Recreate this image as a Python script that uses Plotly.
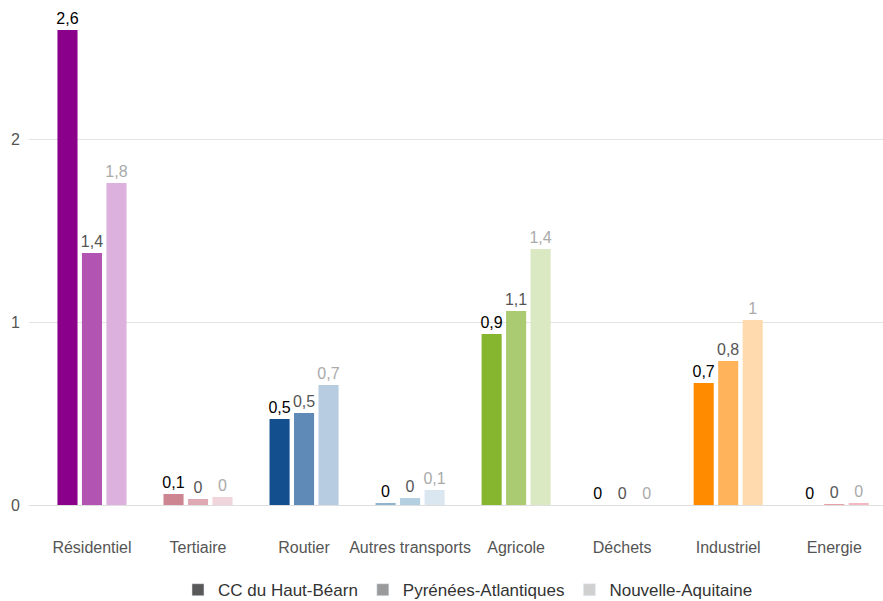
import plotly.graph_objects as go

categories = ["Résidentiel", "Tertiaire", "Routier", "Autres transports",
              "Agricole", "Déchets", "Industriel", "Energie"]
series_names = ["CC du Haut-Béarn", "Pyrénées-Atlantiques", "Nouvelle-Aquitaine"]

cc_values = [2.596, 0.060, 0.470, 0.011, 0.934, 0.0, 0.667, 0.0]
pa_values = [1.377, 0.033, 0.503, 0.038, 1.060, 0.0, 0.787, 0.005]
na_values = [1.760, 0.044, 0.656, 0.082, 1.399, 0.0, 1.011, 0.011]

cc_colors = ["#8B008B", "#CD8592", "#134F8E", "#8EB5CE", "#86B52F", "#8B5A2B", "#FF8C00", "#DC5A6E"]
pa_colors = ["#B254B2", "#DFA9B3", "#5F8AB8", "#B3CFE0", "#AACB72", "#B08A68", "#FFB45C", "#E8A0A8"]
na_colors = ["#DDB1DD", "#F0D5DA", "#B7CBE1", "#DAE7F1", "#DBE9C3", "#D8C4B0", "#FFDAAE", "#F4B8C0"]

legend_colors = ["#595959", "#9a9a9a", "#d0d0d0"]
label_colors = ["#000000", "#555555", "#aaaaaa"]

FONT = '"Liberation Sans", Arial, sans-serif'


def fmt(v):
    s = f"{round(v, 1):.1f}".replace(".", ",")
    if s.endswith(",0"):
        s = s[:-2]
    return s


fig = go.Figure()
for name, vals, cols, lc in zip(series_names, [cc_values, pa_values, na_values],
                                [cc_colors, pa_colors, na_colors], label_colors):
    fig.add_trace(go.Bar(
        x=categories, y=vals, name=name, showlegend=False,
        marker=dict(color=cols, line=dict(width=0)),
        text=[fmt(v) for v in vals], textposition="outside",
        textfont=dict(color=lc, size=16, family=FONT),
        constraintext="none",
        cliponaxis=False, hoverinfo="x+y",
    ))

# legend entries (gray swatches) on a hidden axis
for name, col in zip(series_names, legend_colors):
    fig.add_trace(go.Bar(x=[None], y=[None], name=name, marker=dict(color=col),
                         xaxis="x2", yaxis="y2", showlegend=True))

fig.update_layout(
    width=883, height=601,
    margin=dict(l=29, r=0, t=11, b=96),
    plot_bgcolor="white", paper_bgcolor="white",
    barmode="group", bargap=0.307, bargroupgap=0.18,
    font=dict(family=FONT, size=16, color="#555555"),
    uniformtext=dict(mode=False),
    xaxis=dict(type="category", range=[-0.594, 7.46], showgrid=False, showline=False,
               zeroline=False, ticks="", ticklabelstandoff=31,
               tickfont=dict(size=16, color="#555555", family=FONT)),
    yaxis=dict(range=[0, 2.7], tickvals=[0, 1, 2], ticktext=["0", "1", "2"],
               showgrid=True, gridcolor="#e3e3e3", gridwidth=1,
               zeroline=True, zerolinecolor="#dedede", zerolinewidth=1,
               showline=False, ticks="", ticklabelstandoff=8,
               tickfont=dict(size=16, color="#555555", family=FONT)),
    xaxis2=dict(visible=False, overlaying="x", range=[0, 1]),
    yaxis2=dict(visible=False, overlaying="y", range=[0, 1]),
    legend=dict(orientation="h", xref="container", yref="container",
                x=0.53, xanchor="center", y=0.018, yanchor="middle",
                font=dict(size=17, color="#333333", family=FONT), itemclick=False),
)

fig.write_html("out.html")
